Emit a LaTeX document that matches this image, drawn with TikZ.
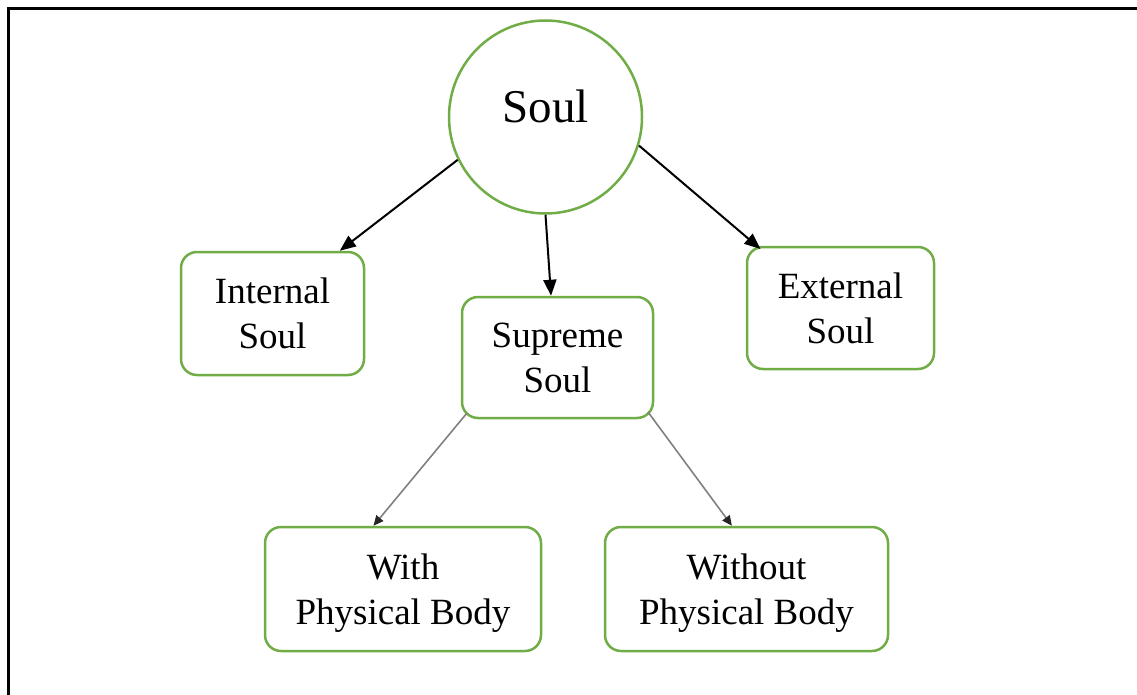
\documentclass[tikz,border=0pt]{standalone}
\usepackage{fontspec}
\setmainfont{Liberation Serif}
\usetikzlibrary{arrows.meta,calc}
\definecolor{boxgreen}{RGB}{112,173,71}
\definecolor{arrowgray}{RGB}{128,128,128}
\tikzset{
  soulbox/.style={draw=boxgreen, line width=2.5pt, rounded corners=16pt, fill=white,
    align=center, inner sep=0pt, text depth=0pt, font=\fontsize{37}{45}\selectfont},
  mainarrow/.style={draw=black, line width=2pt, -{Triangle[length=16pt,width=13pt]}},
  subarrow/.style={draw=arrowgray, line width=1.6pt, -{Triangle[length=10pt,width=9pt,fill=black!85,color=black!85]}},
  frameline/.style={draw=black, line width=3pt}
}
\begin{document}
\begin{tikzpicture}[x=1pt,y=-1pt]
\useasboundingbox (0,0) rectangle (1137,695);
% frame
\coordinate (fa) at (8,696);
\coordinate (fb) at (8,9);
\coordinate (fc) at (1138,9);
\draw[frameline] (fa) -- (fb) -- (fc);
% root circle
\node[circle, draw=boxgreen, line width=2.5pt, minimum size=193pt, inner sep=0pt] (soul) at (545.5,117) {};
\node[font=\fontsize{47}{56}\selectfont, inner sep=0pt] (soultext) at (545.5,106) {Soul};
% boxes
\node[soulbox, minimum width=183pt, minimum height=123pt] (internal) at (272.5,313.5) {Internal\\Soul};
\node[soulbox, minimum width=191pt, minimum height=121pt] (supreme) at (557.5,357.5) {Supreme\\Soul};
\node[soulbox, minimum width=187pt, minimum height=122pt] (external) at (840.5,308) {External\\Soul};
\node[soulbox, minimum width=276pt, minimum height=124pt] (with) at (403,589) {With\\Physical Body};
\node[soulbox, minimum width=283pt, minimum height=124pt] (without) at (746.5,589) {Without\\Physical Body};
% arrows
\draw[mainarrow] (soul.206.4) -- (internal.43.6);
\draw[mainarrow] (soul.270.3) -- (supreme.96.1);
\draw[mainarrow] (soul.343.2) -- ($(external.center)+(-80,-59)$);
\draw[subarrow] ($(supreme.center)+(-90.5,55.5)$) -- (with.115.5);
\draw[subarrow] ($(supreme.center)+(90.5,54.5)$) -- (without.103.2);
\end{tikzpicture}
\end{document}
